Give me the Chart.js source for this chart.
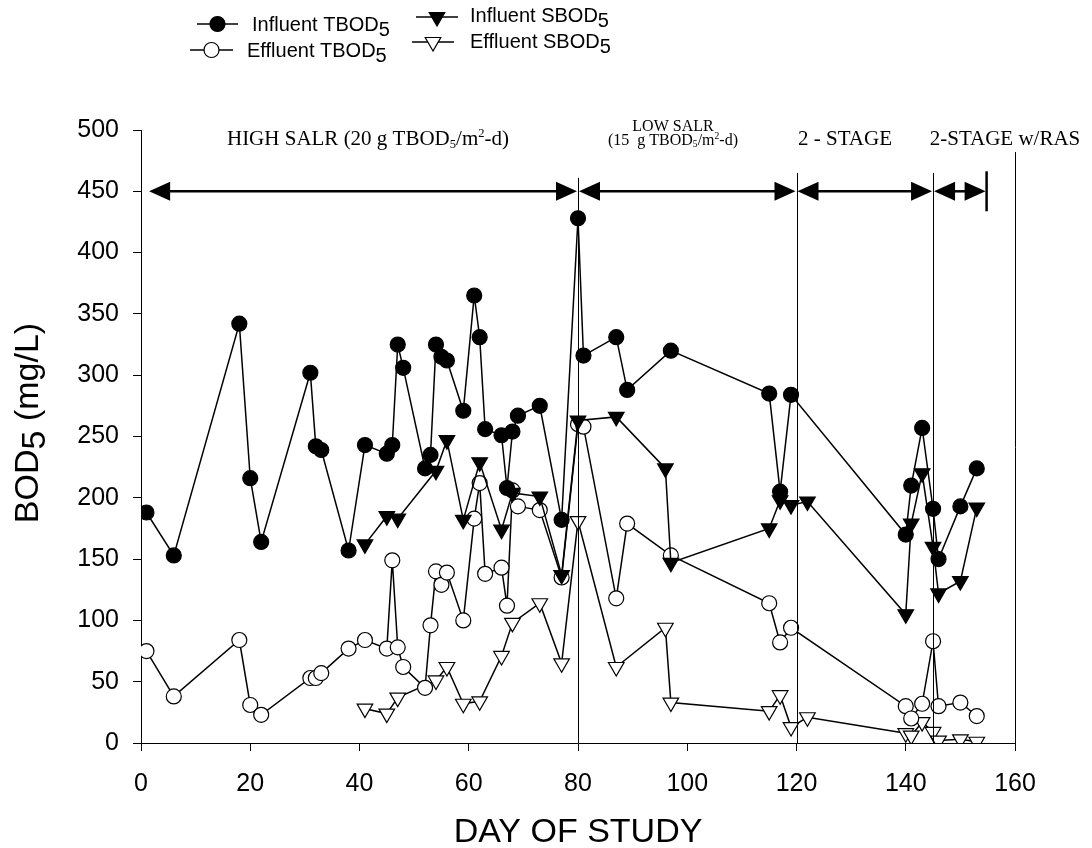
<!DOCTYPE html>
<html>
<head>
<meta charset="utf-8">
<script src="https://cdn.jsdelivr.net/npm/chart.js@4.4.0/dist/chart.umd.min.js"></script>
<style>
  html, body { margin: 0; padding: 0; background: #fff; }
</style>
</head>
<body>
<canvas id="mainChart" width="1092" height="848"></canvas>
<script>
// day of study for each sample
var infTbodDays = [1, 6, 18, 20, 22, 31, 32, 33, 38, 41, 45, 46, 47, 48, 52, 53, 54, 55, 56, 59, 61, 62, 63, 66, 67, 68, 69, 73, 77, 80, 81, 87, 89, 97, 115, 117, 119, 140, 141, 143, 145, 146, 150, 153];
var infTbod = [188, 153, 342, 216, 164, 302, 242, 239, 157, 243, 236, 243, 325, 306, 224, 235, 325, 315, 312, 271, 365, 331, 256, 251, 208, 254, 267, 275, 182, 428, 316, 331, 288, 320, 285, 205, 284, 170, 210, 257, 191, 150, 193, 224];

var effTbodDays = infTbodDays;
var effTbod = [75, 38, 84, 31, 23, 53, 53, 57, 77, 84, 77, 149, 78, 62, 45, 96, 140, 129, 139, 100, 183, 212, 138, 143, 112, 206, 193, 190, 135, 260, 258, 118, 179, 153, 114, 82, 94, 30, 20, 32, 83, 30, 33, 22];

var sbodDays = [41, 45, 47, 54, 56, 59, 62, 66, 68, 73, 77, 80, 87, 96, 97, 115, 117, 119, 122, 140, 141, 143, 145, 146, 150, 153];
var infSbod = [162, 185, 183, 222, 247, 182, 229, 174, 204, 201, 137, 263, 266, 224, 147, 175, 198, 194, 197, 105, 179, 220, 160, 122, 132, 192];
var effSbod = [28, 24, 37, 51, 62, 32, 34, 71, 98, 114, 65, 181, 62, 94, 33, 26, 39, 13, 21, 8, 6, 17, 9, 2, 3, 1];

var xTicks = [0, 20, 40, 60, 80, 100, 120, 140, 160];
var yTicks = [0, 50, 100, 150, 200, 250, 300, 350, 400, 450, 500];

// phase bars: [from day, to day]
var phaseSpans = [[1.3, 80], [80, 120], [120, 145], [145, 154.8]];
var phaseLevel = 450;
// vertical separators: [day, top value]
var phaseLines = [[80, 461], [120, 465], [145, 465], [160, 482]];

var sans = "'Liberation Sans', Arial, sans-serif";
var serif = "'Liberation Serif', 'Times New Roman', serif";

function pairs(days, vals) {
	var out = [];
	for (var i = 0; i < days.length; i++) {
		out.push({x: days[i], y: vals[i]});
	}
	return out;
}

// draws text made of pieces, some of them sub- or superscript
function richText(ctx, parts, x, y, size, family, align) {
	var total = 0;
	parts.forEach(function(p) {
		var s = p.sz ? size * p.sz : size;
		ctx.font = s + 'px ' + family;
		p.w = ctx.measureText(p.t).width;
		total += p.w;
	});
	var cx = x;
	if (align == 'center') cx = x - total / 2;
	ctx.textAlign = 'left';
	ctx.textBaseline = 'alphabetic';
	parts.forEach(function(p) {
		var s = p.sz ? size * p.sz : size;
		ctx.font = s + 'px ' + family;
		ctx.fillText(p.t, cx, y + (p.dy || 0));
		cx += p.w;
	});
}

function drawMarker(ctx, style, filled, x, y) {
	ctx.beginPath();
	if (style == 'circle') {
		ctx.arc(x, y, 7.5, 0, Math.PI * 2);
	} else {
		var r = 9;
		ctx.moveTo(x, y + r);
		ctx.lineTo(x - r * Math.sin(Math.PI / 3), y - r / 2);
		ctx.lineTo(x + r * Math.sin(Math.PI / 3), y - r / 2);
		ctx.closePath();
	}
	ctx.fillStyle = filled ? '#000' : '#fff';
	ctx.fill();
	ctx.lineWidth = 1.2;
	ctx.strokeStyle = '#000';
	ctx.stroke();
}

function arrowHead(ctx, tipX, y, dir) {
	ctx.beginPath();
	ctx.moveTo(tipX, y);
	ctx.lineTo(tipX - dir * 21, y - 9.5);
	ctx.lineTo(tipX - dir * 21, y + 9.5);
	ctx.closePath();
	ctx.fill();
}

var decor = {
	id: 'decor',
	afterDraw: function(chart) {
		var ctx = chart.ctx;
		var xs = chart.scales.x, ys = chart.scales.y;
		ctx.save();

		// phase separators
		ctx.strokeStyle = '#000';
		ctx.lineWidth = 1;
		phaseLines.forEach(function(p) {
			var x = Math.round(xs.getPixelForValue(p[0])) + 0.5;
			ctx.beginPath();
			ctx.moveTo(x, ys.getPixelForValue(p[1]));
			ctx.lineTo(x, ys.getPixelForValue(0));
			ctx.stroke();
		});

		// double arrows
		var ay = ys.getPixelForValue(phaseLevel);
		ctx.fillStyle = '#000';
		ctx.lineWidth = 2.5;
		phaseSpans.forEach(function(s, i) {
			var a = xs.getPixelForValue(s[0]) + 1, b = xs.getPixelForValue(s[1]) - 1;
			ctx.beginPath();
			ctx.moveTo(a + 15, ay);
			ctx.lineTo(b - 15, ay);
			ctx.stroke();
			arrowHead(ctx, a, ay, -1);
			arrowHead(ctx, b, ay, 1);
			if (i == phaseSpans.length - 1) {
				ctx.beginPath();
				ctx.moveTo(b + 1, ay - 20);
				ctx.lineTo(b + 1, ay + 20);
				ctx.stroke();
			}
		});

		// phase labels
		ctx.fillStyle = '#000';
		richText(ctx, [{t: 'HIGH SALR (20 g TBOD'}, {t: '5', sz: 0.6, dy: 3}, {t: '/m'}, {t: '2', sz: 0.6, dy: -8}, {t: '-d)'}], 368, 145, 21, serif, 'center');
		richText(ctx, [{t: 'LOW SALR'}], 673, 131, 16, serif, 'center');
		richText(ctx, [{t: '(15  g TBOD'}, {t: '5', sz: 0.6, dy: 2}, {t: '/m'}, {t: '2', sz: 0.6, dy: -6}, {t: '-d)'}], 673, 145, 16, serif, 'center');
		richText(ctx, [{t: '2 - STAGE'}], 845, 145, 21, serif, 'center');
		richText(ctx, [{t: '2-STAGE w/RAS'}], 1005, 145, 21, serif, 'center');

		// legend
		var leg = [
			{ds: 0, x1: 197, x2: 238, y: 24, tx: 252, ty: 31, parts: [{t: 'Influent TBOD'}, {t: '5', dy: 5}]},
			{ds: 2, x1: 190, x2: 233, y: 50, tx: 247, ty: 57, parts: [{t: 'Effluent TBOD'}, {t: '5', dy: 5}]},
			{ds: 1, x1: 416, x2: 458, y: 17, tx: 470, ty: 22, parts: [{t: 'Influent SBOD'}, {t: '5', dy: 5}]},
			{ds: 3, x1: 412, x2: 454, y: 42, tx: 470, ty: 48, parts: [{t: 'Effluent SBOD'}, {t: '5', dy: 5}]}
		];
		leg.forEach(function(l) {
			var d = chart.data.datasets[l.ds];
			ctx.strokeStyle = '#000';
			ctx.lineWidth = 1.5;
			ctx.beginPath();
			ctx.moveTo(l.x1, l.y);
			ctx.lineTo(l.x2, l.y);
			ctx.stroke();
			drawMarker(ctx, d.pointStyle, d.pointBackgroundColor == '#000', (l.x1 + l.x2) / 2, l.y);
			ctx.fillStyle = '#000';
			richText(ctx, l.parts, l.tx, l.ty, 20, sans, 'left');
		});

		// axis titles
		ctx.fillStyle = '#000';
		richText(ctx, [{t: 'DAY OF STUDY'}], (chart.chartArea.left + chart.chartArea.right) / 2, 842, 34, sans, 'center');
		ctx.translate(38, 423);
		ctx.rotate(-Math.PI / 2);
		richText(ctx, [{t: 'BOD'}, {t: '5', dy: 7}, {t: ' (mg/L)'}], 0, 0, 34, sans, 'center');
		ctx.restore();
	}
};

function series(label, days, vals, style, filled) {
	return {
		label: label,
		data: pairs(days, vals),
		showLine: true,
		borderColor: '#000',
		borderWidth: 1.5,
		pointStyle: style,
		rotation: style == 'triangle' ? 180 : 0,
		pointRadius: style == 'triangle' ? 9 : 7.5,
		pointBorderWidth: 1.2,
		pointBorderColor: '#000',
		pointBackgroundColor: filled ? '#000' : '#fff',
		tension: 0
	};
}

var ctx = document.getElementById('mainChart').getContext('2d');
var chart = new Chart(ctx, {
	type: 'scatter',
	data: {
		datasets: [
			series('Influent TBOD5', infTbodDays, infTbod, 'circle', true),
			series('Influent SBOD5', sbodDays, infSbod, 'triangle', true),
			series('Effluent TBOD5', effTbodDays, effTbod, 'circle', false),
			series('Effluent SBOD5', sbodDays, effSbod, 'triangle', false)
		]
	},
	options: {
		responsive: false,
		animation: false,
		layout: { padding: { top: 130, right: 77, left: 0, bottom: 0 } },
		plugins: { legend: { display: false }, tooltip: { enabled: false } },
		scales: {
			x: {
				type: 'linear', min: 0, max: 160,
				afterFit: function(s) { s.height = 105; },
				afterBuildTicks: function(s) { s.ticks = xTicks.map(function(v) { return {value: v}; }); },
				ticks: { color: '#000', font: { family: sans, size: 25 }, padding: 18, maxRotation: 0 },
				grid: { display: true, drawOnChartArea: false, drawTicks: true, tickLength: 8, color: '#000' },
				border: { display: true, color: '#000', width: 1 }
			},
			y: {
				min: 0, max: 500,
				afterFit: function(s) { s.width = 141; },
				afterBuildTicks: function(s) { s.ticks = yTicks.map(function(v) { return {value: v}; }); },
				ticks: { color: '#000', font: { family: sans, size: 25 }, padding: 14 },
				grid: { display: true, drawOnChartArea: false, drawTicks: true, tickLength: 8, color: '#000' },
				border: { display: true, color: '#000', width: 1 }
			}
		}
	},
	plugins: [decor]
});
</script>
</body>
</html>
